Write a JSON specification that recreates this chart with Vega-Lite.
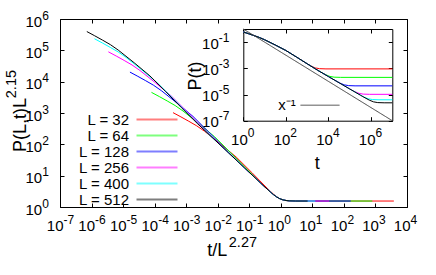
{
  "$schema": "https://vega.github.io/schema/vega-lite/v6.json",
  "width": 347,
  "height": 188,
  "autosize": {"type": "none"},
  "padding": {"left": 60, "top": 19, "right": 29, "bottom": 68},
  "background": "white",
  "config": {
    "font": "Liberation Sans",
    "view": {"stroke": null},
    "axis": {"grid": false, "domainColor": "#000", "tickColor": "#000", "labelColor": "#000", "titleColor": "#000", "titleFontWeight": "normal", "labelFont": "Liberation Sans", "titleFont": "Liberation Sans", "labelOverlap": false, "labelFlush": false, "labelBound": false, "titleAnchor": null},
    "legend": {"labelFont": "Liberation Sans", "padding": 0, "offset": 0, "labelColor": "#000"}
  },
  "datasets": {
    "main": [
      {"L":32,"x":3.831e-4,"y":1026},{"L":32,"x":6.813e-4,"y":751.6},{"L":32,"x":1.2115e-3,"y":544.6},{"L":32,"x":2.154e-3,"y":390.0},{"L":32,"x":3.831e-3,"y":260.7},{"L":32,"x":0.012115,"y":103.8},{"L":32,"x":0.03831,"y":39.46},{"L":32,"x":0.12115,"y":12.48},{"L":32,"x":0.2928,"y":5.042},{"L":32,"x":0.4641,"y":3.184},{"L":32,"x":0.5843,"y":2.574},{"L":32,"x":0.7355,"y":2.123},{"L":32,"x":0.926,"y":1.842},{"L":32,"x":1.166,"y":1.6905},{"L":32,"x":1.468,"y":1.611},{"L":32,"x":1.848,"y":1.573},{"L":32,"x":2.927,"y":1.552},{"L":32,"x":3831,"y":1.549},
      {"L":64,"x":7.943e-5,"y":4553},{"L":64,"x":1.4125e-4,"y":3336},{"L":64,"x":2.512e-4,"y":2417},{"L":64,"x":4.467e-4,"y":1731},{"L":64,"x":7.943e-4,"y":1157},{"L":64,"x":2.512e-3,"y":460.7},{"L":64,"x":7.943e-3,"y":175.1},{"L":64,"x":0.02512,"y":55.38},{"L":64,"x":0.07943,"y":16.92},{"L":64,"x":0.2928,"y":4.619},{"L":64,"x":0.4641,"y":3.026},{"L":64,"x":0.5843,"y":2.491},{"L":64,"x":0.7355,"y":2.102},{"L":64,"x":0.926,"y":1.842},{"L":64,"x":1.166,"y":1.6905},{"L":64,"x":1.468,"y":1.611},{"L":64,"x":1.848,"y":1.573},{"L":64,"x":2.927,"y":1.552},{"L":64,"x":794.3,"y":1.549},
      {"L":128,"x":1.6467e-5,"y":20210},{"L":128,"x":2.928e-5,"y":14810},{"L":128,"x":5.207e-5,"y":10727},{"L":128,"x":9.26e-5,"y":7684},{"L":128,"x":1.6467e-4,"y":5134},{"L":128,"x":5.207e-4,"y":2045},{"L":128,"x":1.6467e-3,"y":777.2},{"L":128,"x":5.207e-3,"y":245.8},{"L":128,"x":0.016467,"y":75.07},{"L":128,"x":0.05207,"y":23.63},{"L":128,"x":0.1647,"y":7.953},{"L":128,"x":0.2928,"y":4.619},{"L":128,"x":0.4641,"y":3.026},{"L":128,"x":0.5843,"y":2.491},{"L":128,"x":0.7355,"y":2.102},{"L":128,"x":0.926,"y":1.842},{"L":128,"x":1.166,"y":1.6905},{"L":128,"x":1.468,"y":1.611},{"L":128,"x":1.848,"y":1.573},{"L":128,"x":2.927,"y":1.552},{"L":128,"x":164.7,"y":1.549},
      {"L":256,"x":3.4145e-6,"y":89680},{"L":256,"x":6.072e-6,"y":65720},{"L":256,"x":1.0798e-5,"y":47610},{"L":256,"x":1.92e-5,"y":34100},{"L":256,"x":3.4145e-5,"y":22790},{"L":256,"x":1.0798e-4,"y":9073},{"L":256,"x":3.4145e-4,"y":3449},{"L":256,"x":1.0798e-3,"y":1091},{"L":256,"x":3.4145e-3,"y":333.2},{"L":256,"x":0.010798,"y":104.9},{"L":256,"x":0.034145,"y":35.29},{"L":256,"x":0.10798,"y":11.85},{"L":256,"x":0.2928,"y":4.619},{"L":256,"x":0.4641,"y":3.026},{"L":256,"x":0.5843,"y":2.491},{"L":256,"x":0.7355,"y":2.102},{"L":256,"x":0.926,"y":1.842},{"L":256,"x":1.166,"y":1.6905},{"L":256,"x":1.468,"y":1.611},{"L":256,"x":1.848,"y":1.573},{"L":256,"x":2.927,"y":1.552},{"L":256,"x":34.15,"y":1.549},
      {"L":400,"x":1.2397e-6,"y":234000},{"L":400,"x":2.2046e-6,"y":171560},{"L":400,"x":3.92e-6,"y":124270},{"L":400,"x":6.971e-6,"y":89010},{"L":400,"x":1.2397e-5,"y":59480},{"L":400,"x":3.92e-5,"y":23680},{"L":400,"x":1.2397e-4,"y":9001},{"L":400,"x":3.92e-4,"y":2847},{"L":400,"x":1.2397e-3,"y":869.7},{"L":400,"x":3.92e-3,"y":273.7},{"L":400,"x":0.012397,"y":92.13},{"L":400,"x":0.0392,"y":30.93},{"L":400,"x":0.12397,"y":10.41},{"L":400,"x":0.2928,"y":4.619},{"L":400,"x":0.4641,"y":3.026},{"L":400,"x":0.5843,"y":2.491},{"L":400,"x":0.7355,"y":2.102},{"L":400,"x":0.926,"y":1.842},{"L":400,"x":1.166,"y":1.6905},{"L":400,"x":1.468,"y":1.611},{"L":400,"x":1.848,"y":1.573},{"L":400,"x":2.927,"y":1.552},{"L":400,"x":12.40,"y":1.549},
      {"L":512,"x":7.079e-7,"y":398100},{"L":512,"x":1.2589e-6,"y":291600},{"L":512,"x":2.2387e-6,"y":211300},{"L":512,"x":3.981e-6,"y":151300},{"L":512,"x":7.079e-6,"y":101100},{"L":512,"x":2.2387e-5,"y":40260},{"L":512,"x":7.079e-5,"y":15300},{"L":512,"x":2.2387e-4,"y":4841},{"L":512,"x":7.079e-4,"y":1479},{"L":512,"x":2.2387e-3,"y":465.5},{"L":512,"x":7.079e-3,"y":156.6},{"L":512,"x":0.022387,"y":52.60},{"L":512,"x":0.07079,"y":17.70},{"L":512,"x":0.22387,"y":5.941},{"L":512,"x":0.2928,"y":4.619},{"L":512,"x":0.4641,"y":3.026},{"L":512,"x":0.5843,"y":2.491},{"L":512,"x":0.7355,"y":2.102},{"L":512,"x":0.926,"y":1.842},{"L":512,"x":1.166,"y":1.6905},{"L":512,"x":1.468,"y":1.611},{"L":512,"x":1.848,"y":1.573},{"L":512,"x":2.927,"y":1.552},{"L":512,"x":7.079,"y":1.549}
    ],
    "inset": [
      {"L":32,"t":1,"P":0.5957},{"L":32,"t":1.778,"P":0.4365},{"L":32,"t":3.162,"P":0.3162},{"L":32,"t":5.623,"P":0.2265},{"L":32,"t":10,"P":0.1514},{"L":32,"t":31.62,"P":0.06026},{"L":32,"t":100,"P":0.02291},{"L":32,"t":316.2,"P":0.007244},{"L":32,"t":1000,"P":0.002213},{"L":32,"t":1524,"P":0.001494},{"L":32,"t":2415,"P":0.0010696},{"L":32,"t":3828,"P":0.0009352},{"L":32,"t":7638,"P":0.0009013},{"L":32,"t":1e7,"P":0.0008992},
      {"L":64,"t":1,"P":0.5957},{"L":64,"t":1.778,"P":0.4365},{"L":64,"t":3.162,"P":0.3162},{"L":64,"t":5.623,"P":0.2265},{"L":64,"t":10,"P":0.1514},{"L":64,"t":31.62,"P":0.06026},{"L":64,"t":100,"P":0.02291},{"L":64,"t":316.2,"P":0.007244},{"L":64,"t":1000,"P":0.002213},{"L":64,"t":3162,"P":0.0006966},{"L":64,"t":7352,"P":0.0003258},{"L":64,"t":11650,"P":0.000241},{"L":64,"t":18470,"P":0.0002107},{"L":64,"t":36850,"P":0.0002031},{"L":64,"t":1e7,"P":0.0002026},
      {"L":128,"t":1,"P":0.5957},{"L":128,"t":1.778,"P":0.4365},{"L":128,"t":3.162,"P":0.3162},{"L":128,"t":5.623,"P":0.2265},{"L":128,"t":10,"P":0.1514},{"L":128,"t":31.62,"P":0.06026},{"L":128,"t":100,"P":0.02291},{"L":128,"t":316.2,"P":0.007244},{"L":128,"t":1000,"P":0.002213},{"L":128,"t":3162,"P":0.0006966},{"L":128,"t":10000,"P":0.0002344},{"L":128,"t":17780,"P":0.0001361},{"L":128,"t":35470,"P":7.343e-5},{"L":128,"t":56230,"P":5.43e-5},{"L":128,"t":89100,"P":4.747e-5},{"L":128,"t":177800,"P":4.575e-5},{"L":128,"t":1e7,"P":4.565e-5},
      {"L":256,"t":1,"P":0.5957},{"L":256,"t":1.778,"P":0.4365},{"L":256,"t":3.162,"P":0.3162},{"L":256,"t":5.623,"P":0.2265},{"L":256,"t":10,"P":0.1514},{"L":256,"t":31.62,"P":0.06026},{"L":256,"t":100,"P":0.02291},{"L":256,"t":316.2,"P":0.007244},{"L":256,"t":1000,"P":0.002213},{"L":256,"t":3162,"P":0.0006966},{"L":256,"t":10000,"P":0.0002344},{"L":256,"t":31623,"P":7.87e-5},{"L":256,"t":85770,"P":3.067e-5},{"L":256,"t":171100,"P":1.655e-5},{"L":256,"t":271300,"P":1.2235e-5},{"L":256,"t":429900,"P":1.07e-5},{"L":256,"t":857700,"P":1.031e-5},{"L":256,"t":1e7,"P":1.029e-5},
      {"L":400,"t":1,"P":0.5957},{"L":400,"t":1.778,"P":0.4365},{"L":400,"t":3.162,"P":0.3162},{"L":400,"t":5.623,"P":0.2265},{"L":400,"t":10,"P":0.1514},{"L":400,"t":31.62,"P":0.06026},{"L":400,"t":100,"P":0.02291},{"L":400,"t":316.2,"P":0.007244},{"L":400,"t":1000,"P":0.002213},{"L":400,"t":3162,"P":0.0006966},{"L":400,"t":10000,"P":0.0002344},{"L":400,"t":31623,"P":7.87e-5},{"L":400,"t":100000,"P":2.649e-5},{"L":400,"t":236200,"P":1.175e-5},{"L":400,"t":471300,"P":6.339e-6},{"L":400,"t":746900,"P":4.687e-6},{"L":400,"t":1184000,"P":4.098e-6},{"L":400,"t":2362000,"P":3.95e-6},{"L":400,"t":1e7,"P":3.941e-6},
      {"L":512,"t":1,"P":0.5957},{"L":512,"t":1.778,"P":0.4365},{"L":512,"t":3.162,"P":0.3162},{"L":512,"t":5.623,"P":0.2265},{"L":512,"t":10,"P":0.1514},{"L":512,"t":31.62,"P":0.06026},{"L":512,"t":100,"P":0.02291},{"L":512,"t":316.2,"P":0.007244},{"L":512,"t":1000,"P":0.002213},{"L":512,"t":3162,"P":0.0006966},{"L":512,"t":10000,"P":0.0002344},{"L":512,"t":31623,"P":7.87e-5},{"L":512,"t":100000,"P":2.649e-5},{"L":512,"t":316228,"P":8.892e-6},{"L":512,"t":413700,"P":6.912e-6},{"L":512,"t":825600,"P":3.727e-6},{"L":512,"t":1309000,"P":2.756e-6},{"L":512,"t":2073000,"P":2.41e-6},{"L":512,"t":4137000,"P":2.323e-6},{"L":512,"t":1e7,"P":2.318e-6}
    ],
    "ref": [
      {"k":"x⁻¹","t":1,"P":1},{"k":"x⁻¹","t":1e7,"P":1e-7}
    ]
  },
  "resolve": {"scale": {"x": "independent", "y": "independent"}, "axis": {"x": "independent", "y": "independent"}},
  "layer": [
    {
      "data": {"name": "main"},
      "mark": {"type": "line", "strokeWidth": 1, "clip": true},
      "encoding": {
        "x": {"field": "x", "type": "quantitative", "scale": {"type": "log", "domain": [1e-7, 1e4], "nice": false},
          "axis": {"orient": "bottom", "values": [1e-7,1e-6,1e-5,1e-4,1e-3,1e-2,1e-1,1,10,100,1000,10000], "labelExpr": "'10'", "labelFontSize": 15, "labelAlign": "right", "labelBaseline": "alphabetic", "labelOffset": 3, "labelPadding": 27, "tickSize": -4, "domain": true,
            "title": "t/L", "titleFontSize": 18, "titleX": 146.7, "titleY": 48, "titleAlign": "left", "titleBaseline": "alphabetic"}},
        "y": {"field": "y", "type": "quantitative", "scale": {"type": "log", "domain": [1, 1e6], "nice": false},
          "axis": {"orient": "left", "values": [1,10,100,1000,10000,100000,1000000], "labelExpr": "'10'", "labelFontSize": 15, "labelAlign": "right", "labelBaseline": "alphabetic", "labelOffset": 7, "labelPadding": 22.3, "tickSize": -4, "domain": true,
            "title": "P(L,t)L", "titleFontSize": 18, "titleAngle": 270, "titleX": -35, "titleY": 132.4, "titleAlign": "left", "titleBaseline": "alphabetic"}},
        "color": {"field": "L", "type": "nominal", "scale": {"domain": [32,64,128,256,400,512], "range": ["#ff0000","#00ff00","#0000ff","#ff00ff","#00ffff","#000000"]},
          "legend": {"orient": "none", "legendX": 89.5, "legendY": 93, "title": null, "labelExpr": "'L = ' + datum.label", "symbolType": "M-4,0H4", "symbolSize": 105, "symbolStrokeWidth": 2, "symbolOpacity": 0.5, "labelFontSize": 15, "labelAlign": "right", "labelOffset": -35.5, "rowPadding": -0.5, "labelLimit": 0}}
      }
    },
    {
      "data": {"name": "main"},
      "mark": {"type": "point", "opacity": 0},
      "encoding": {
        "x": {"field": "x", "type": "quantitative", "scale": {"type": "log", "domain": [1e-7, 1e4], "nice": false},
          "axis": {"orient": "bottom", "values": [1e-7,1e-6,1e-5,1e-4,1e-3,1e-2,1e-1,1,10,100,1000,10000], "labelExpr": "'' + round(log(datum.value)/LN10)", "labelFontSize": 12, "labelAlign": "left", "labelBaseline": "alphabetic", "labelOffset": 3, "labelPadding": 16, "ticks": false, "domain": false,
            "title": "2.27", "titleFontSize": 14.5, "titleX": 168.3, "titleY": 39.7, "titleAlign": "left", "titleBaseline": "alphabetic"}},
        "y": {"field": "y", "type": "quantitative", "scale": {"type": "log", "domain": [1, 1e6], "nice": false},
          "axis": {"orient": "left", "values": [1,10,100,1000,10000,100000,1000000], "labelExpr": "'' + round(log(datum.value)/LN10)", "labelFontSize": 12, "labelAlign": "left", "labelBaseline": "alphabetic", "labelOffset": 0, "labelPadding": 18.3, "ticks": false, "domain": false,
            "title": "2.15", "titleFontSize": 14.5, "titleAngle": 270, "titleX": -45, "titleY": 78.7, "titleAlign": "left", "titleBaseline": "alphabetic"}}
      }
    },
    {
      "data": {"name": "main"},
      "mark": {"type": "point", "opacity": 0},
      "encoding": {
        "x": {"field": "x", "type": "quantitative", "scale": {"type": "log", "domain": [1e-7, 1e4], "nice": false},
          "axis": {"orient": "top", "values": [1e-7,1e-6,1e-5,1e-4,1e-3,1e-2,1e-1,1,10,100,1000,10000], "labels": false, "tickSize": -4, "domain": true, "title": null}},
        "y": {"field": "y", "type": "quantitative", "scale": {"type": "log", "domain": [1, 1e6], "nice": false},
          "axis": {"orient": "right", "values": [1,10,100,1000,10000,100000,1000000], "labels": false, "tickSize": -4, "domain": true, "title": null}}
      }
    },
    {
      "data": {"name": "inset"},
      "mark": {"type": "line", "strokeWidth": 1},
      "encoding": {
        "x": {"field": "t", "type": "quantitative", "scale": {"type": "log", "domain": [1, 1e7], "range": [183.3, 332.3], "nice": false},
          "axis": {"orient": "bottom", "offset": -86.3, "values": [1,100,10000,1000000], "labelExpr": "'10'", "labelFontSize": 15, "labelAlign": "right", "labelBaseline": "alphabetic", "labelOffset": 4, "labelPadding": 28, "tickSize": -4, "domain": true,
            "title": "t", "titleFontSize": 18, "titleX": 256.7, "titleY": 47.3, "titleAlign": "center", "titleBaseline": "alphabetic"}},
        "y": {"field": "P", "type": "quantitative", "scale": {"type": "log", "domain": [1e-7, 1], "range": [101.7, 10], "nice": false},
          "axis": {"orient": "left", "offset": -183.3, "values": [1e-7,1e-5,1e-3,1e-1], "labelExpr": "'10'", "labelFontSize": 15, "labelAlign": "right", "labelBaseline": "alphabetic", "labelOffset": 6, "labelPadding": 29, "tickSize": -4, "domain": true,
            "title": "P(t)", "titleFontSize": 18, "titleAngle": 270, "titleX": -42.6, "titleY": 71, "titleAlign": "left", "titleBaseline": "alphabetic"}},
        "color": {"field": "L", "type": "nominal"}
      }
    },
    {
      "data": {"name": "ref"},
      "mark": {"type": "line", "strokeWidth": 1, "color": "#404040"},
      "encoding": {
        "x": {"field": "t", "type": "quantitative", "scale": {"type": "log", "domain": [1, 1e7], "range": [183.3, 332.3], "nice": false},
          "axis": {"orient": "bottom", "offset": -86.3, "values": [1,100,10000,1000000], "labelExpr": "'' + round(log(datum.value)/LN10)", "labelFontSize": 12, "labelAlign": "left", "labelBaseline": "alphabetic", "labelOffset": 4, "labelPadding": 16, "ticks": false, "domain": false, "title": null}},
        "y": {"field": "P", "type": "quantitative", "scale": {"type": "log", "domain": [1e-7, 1], "range": [101.7, 10], "nice": false},
          "axis": {"orient": "left", "offset": -183.3, "values": [1e-7,1e-5,1e-3,1e-1], "labelExpr": "'' + round(log(datum.value)/LN10)", "labelFontSize": 12, "labelAlign": "left", "labelBaseline": "alphabetic", "labelOffset": -1, "labelPadding": 25, "ticks": false, "domain": false, "title": null}},
        "strokeDash": {"field": "k", "type": "nominal", "scale": {"domain": ["x⁻¹"], "range": [[1, 0]]},
          "legend": {"orient": "none", "legendX": 252.5, "legendY": 78.7, "title": null, "symbolType": "M-4,0H4", "symbolSize": 95, "symbolStrokeWidth": 1, "symbolStrokeColor": "#404040", "labelFontSize": 15, "labelAlign": "right", "labelOffset": -31.7, "labelLimit": 0}}
      }
    },
    {
      "data": {"name": "ref"},
      "mark": {"type": "point", "opacity": 0},
      "encoding": {
        "x": {"field": "t", "type": "quantitative", "scale": {"type": "log", "domain": [1, 1e7], "range": [183.3, 332.3], "nice": false},
          "axis": {"orient": "top", "offset": -10, "values": [1,100,10000,1000000], "labels": false, "tickSize": -4, "domain": true, "title": null}},
        "y": {"field": "P", "type": "quantitative", "scale": {"type": "log", "domain": [1e-7, 1], "range": [101.7, 10], "nice": false},
          "axis": {"orient": "right", "offset": -14.7, "values": [1e-7,1e-5,1e-3,1e-1], "labels": false, "tickSize": -4, "domain": true, "title": null}}
      }
    }
  ]
}
